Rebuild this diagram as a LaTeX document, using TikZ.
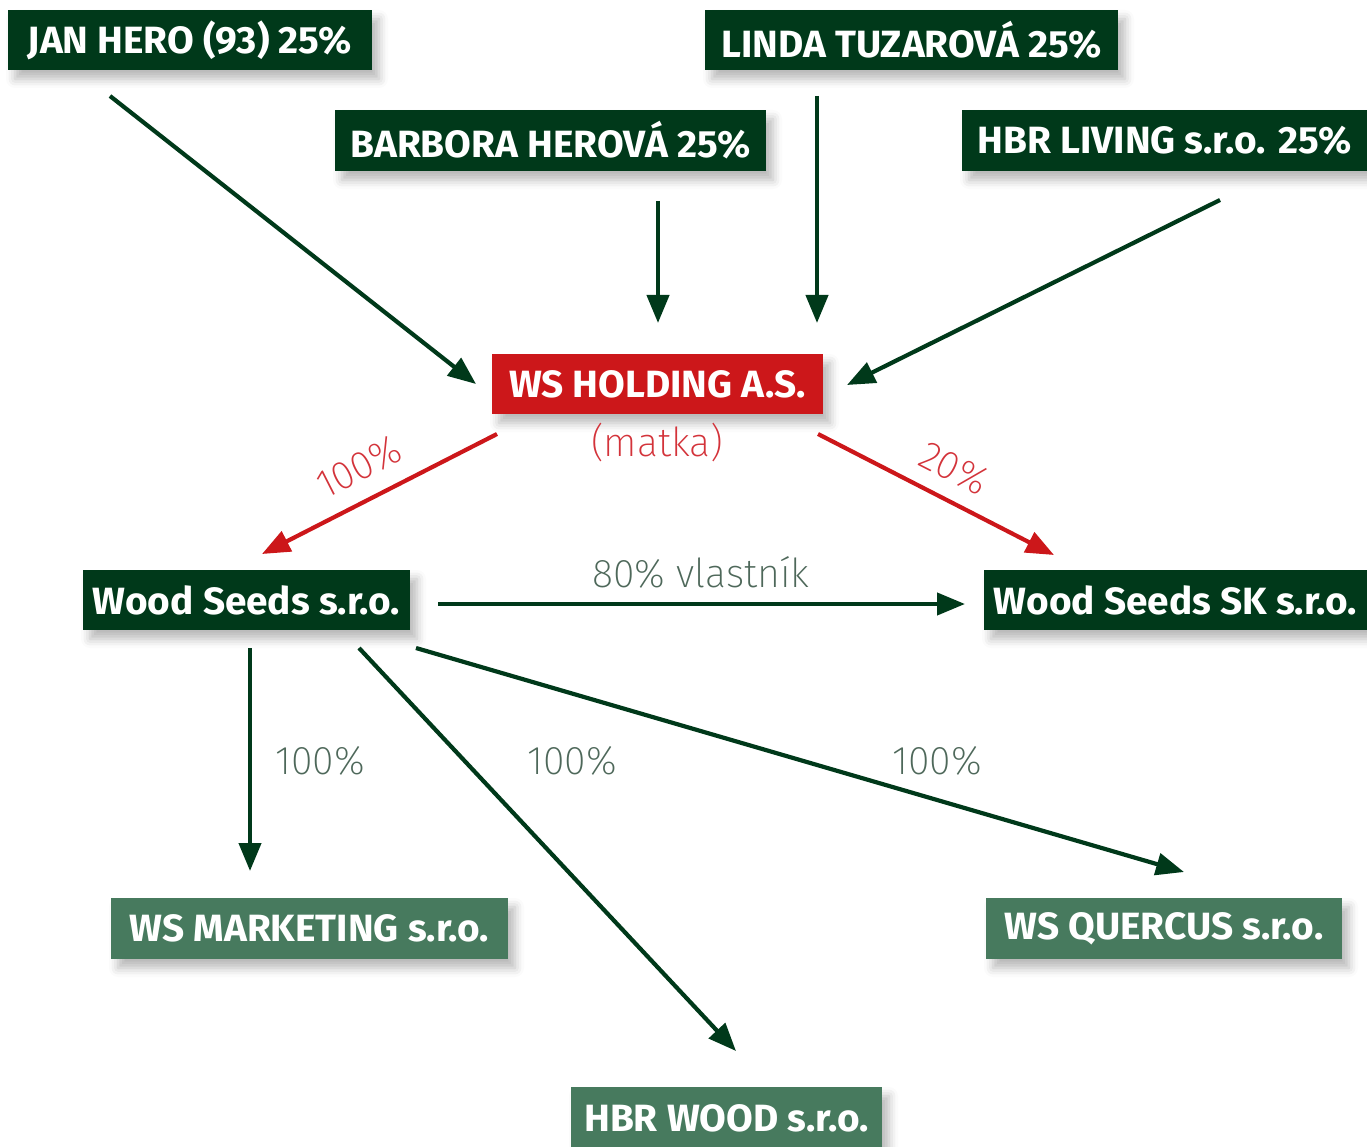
\documentclass[tikz,border=0pt]{standalone}
\usepackage{fontspec}
\setmainfont{Fira Sans}
\newfontfamily\boxfont{Fira Sans}[FakeStretch=1.02,UprightFont=* Bold]
\newfontfamily\thinfont{Fira Sans}[FakeStretch=0.98,UprightFont=* ExtraLight]
\usetikzlibrary{arrows.meta,shadows.blur}
\definecolor{dkgreen}{HTML}{00391A}
\definecolor{mdgreen}{HTML}{477A5E}
\definecolor{wsred}{HTML}{CC171A}
\definecolor{lblgray}{HTML}{4E685A}
\definecolor{lblred}{HTML}{D3333A}
\tikzset{
  base/.style={inner sep=0pt, text=white, font=\boxfont\fontsize{38}{40}\selectfont,
    blur shadow={shadow xshift=7pt, shadow yshift=-9pt, shadow blur radius=9pt, shadow opacity=28}},
  dkbox/.style={base, fill=dkgreen},
  mdbox/.style={base, fill=mdgreen},
  redbox/.style={base, fill=wsred},
  garrow/.style={draw=dkgreen, line width=4.2pt, -{Triangle[length=28pt,width=22pt]}},
  rarrow/.style={draw=wsred, line width=4.2pt, -{Triangle[length=28pt,width=22pt]}},
  glabel/.style={text=lblgray, font=\thinfont\fontsize{40}{42}\selectfont, inner sep=0pt},
  rlabel/.style={text=lblred, font=\thinfont\fontsize{40}{42}\selectfont, inner sep=0pt},
}
\begin{document}
\begin{tikzpicture}[x=1pt,y=-1pt]
\useasboundingbox (0,0) rectangle (1367,1147);
% boxes
\node[dkbox, minimum width=364pt, minimum height=60pt] (jan) at (190,40) {JAN HERO (93) 25\%};
\node[dkbox, minimum width=413pt, minimum height=60pt] (linda) at (911.5,40) {LINDA TUZAROVÁ 25\%};
\node[dkbox, minimum width=431pt, minimum height=61pt] (barbora) at (550.5,140.5) {BARBORA HEROVÁ 25\%};
\node[dkbox, minimum width=405pt, minimum height=61pt] (hbrliving) at (1164.5,140.5) {HBR LIVING s.r.o. 25\%};
\node[redbox, minimum width=331pt, minimum height=60pt] (holding) at (657.5,384) {WS HOLDING A.S.};
\node[rlabel] (matka) at (657,442) {(matka)};
\node[dkbox, minimum width=327pt, minimum height=60pt] (wseeds) at (246.5,600) {Wood Seeds s.r.o.};
\node[dkbox, minimum width=383pt, minimum height=60pt] (wsk) at (1175.5,600) {Wood Seeds SK s.r.o.};
\node[mdbox, minimum width=397pt, minimum height=61pt] (mkt) at (309.5,928.5) {WS MARKETING s.r.o.};
\node[mdbox, minimum width=356pt, minimum height=61pt] (quercus) at (1164,928.5) {WS QUERCUS s.r.o.};
\node[mdbox, minimum width=311pt, minimum height=62pt] (hbrwood) at (726.5,1118) {HBR WOOD s.r.o.};
% connector end points
\coordinate (janS) at (110,96);
\coordinate (holdJ) at (476,384);
\coordinate (barS) at (658,201);
\coordinate (holdB) at (658,323);
\coordinate (linS) at (817,96);
\coordinate (holdL) at (817,323);
\coordinate (livS) at (1220,200);
\coordinate (holdV) at (847,385);
\coordinate (holdA) at (497,434);
\coordinate (wsT) at (262,554);
\coordinate (holdC) at (818,434);
\coordinate (wskT) at (1054,555);
\coordinate (wsE) at (438,604);
\coordinate (wskW) at (965,604);
\coordinate (wsB1) at (250,648);
\coordinate (mktT) at (250,871);
\coordinate (wsB2) at (359,648);
\coordinate (hbrT) at (736,1051);
\coordinate (wsB3) at (416,648);
\coordinate (quT) at (1184,872);
% arrows
\draw[garrow] (janS) -- (holdJ);
\draw[garrow] (barS) -- (holdB);
\draw[garrow] (linS) -- (holdL);
\draw[garrow] (livS) -- (holdV);
\draw[rarrow] (holdA) -- (wsT);
\draw[rarrow] (holdC) -- (wskT);
\draw[garrow] (wsE) -- (wskW);
\draw[garrow] (wsB1) -- (mktT);
\draw[garrow] (wsB2) -- (hbrT);
\draw[garrow] (wsB3) -- (quT);
% labels
\node[rlabel, rotate=27] (l100r) at (359,467) {100\%};
\node[rlabel, rotate=-27] (l20r) at (954,468) {20\%};
\node[glabel] (l80) at (701,572) {80\% vlastník};
\node[glabel] (l1) at (320,761) {100\%};
\node[glabel] (l2) at (572,761) {100\%};
\node[glabel] (l3) at (937,761) {100\%};
\end{tikzpicture}
\end{document}
